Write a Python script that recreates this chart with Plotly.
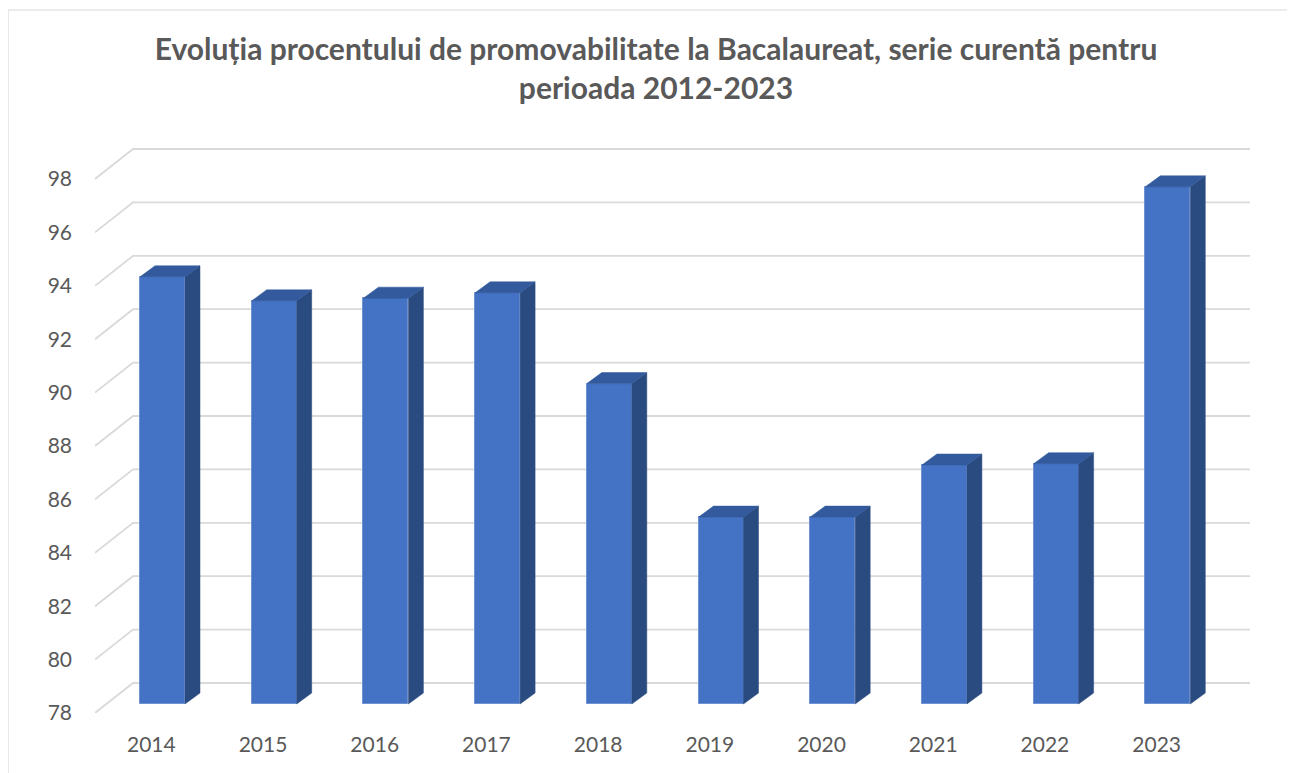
import plotly.graph_objects as go

# ---- data ----
years = ["2014", "2015", "2016", "2017", "2018", "2019", "2020", "2021", "2022", "2023"]
pass_rate = [94.0, 93.1, 93.2, 93.4, 90.0, 85.0, 85.0, 86.95, 87.0, 97.37]
y_ticks = [78, 80, 82, 84, 86, 88, 90, 92, 94, 96, 98]
title_text = "Evoluția procentului de promovabilitate la Bacalaureat, serie curentă pentru<br>perioada 2012-2023"

# ---- style / geometry (page pixels; page has an 8px body margin) ----
OFF = 8
W, H = 1295 - OFF, 773 - OFF
PLOT_L, PLOT_R, PLOT_T, PLOT_B = 95 - OFF, 1250 - OFF, 140 - OFF, 713 - OFF
BASE = 78
PX_PER_VAL = 26.7
PX_PER_CAT = 111.7
FIRST_CENTER_PX = 162.5 - OFF
BAR_BOTTOM_PX = 704 - OFF

x0 = (PLOT_L - FIRST_CENTER_PX) / PX_PER_CAT
x1 = x0 + (PLOT_R - PLOT_L) / PX_PER_CAT
y_lo = BASE - (PLOT_B - BAR_BOTTOM_PX) / PX_PER_VAL
y_hi = y_lo + (PLOT_B - PLOT_T) / PX_PER_VAL

bar_w = 45 / PX_PER_CAT
dx = 15 / PX_PER_CAT
dy = 11 / PX_PER_VAL
grid_front_dy = -9 / PX_PER_VAL
grid_back_dy = 21 / PX_PER_VAL
grid_back_x = (133 - OFF - FIRST_CENTER_PX) / PX_PER_CAT

FRONT = "#4472C4"
SIDE = "#2A4B80"
TOP = "#325A9C"
GRID = "#D9D9D9"
TEXT = "#595959"
FONT = "Lato"

xs = list(range(len(years)))

fig = go.Figure()

# side faces
sx, sy = [], []
for i, v in zip(xs, pass_rate):
    r = i + bar_w / 2
    sx += [r, r + dx, r + dx, r, r, None]
    sy += [BASE, BASE + dy, v + dy, v, BASE, None]
fig.add_trace(go.Scatter(x=sx, y=sy, mode="lines", fill="toself", fillcolor=SIDE,
                         line=dict(color=SIDE, width=0.5), hoverinfo="skip", showlegend=False))

# top faces
tx, ty = [], []
for i, v in zip(xs, pass_rate):
    l = i - bar_w / 2
    r = i + bar_w / 2
    tx += [l, l + dx, r + dx, r, l, None]
    ty += [v, v + dy, v + dy, v, v, None]
fig.add_trace(go.Scatter(x=tx, y=ty, mode="lines", fill="toself", fillcolor=TOP,
                         line=dict(color=TOP, width=0.5), hoverinfo="skip", showlegend=False))

# front faces
fig.add_trace(go.Bar(x=xs, y=[v - BASE for v in pass_rate], base=BASE, width=bar_w,
                     marker=dict(color=FRONT, line=dict(color="#6F92D3", width=1)),
                     hoverinfo="skip", showlegend=False))

# gridlines (perspective back-wall style), drawn below the traces
shapes = []
for v in y_ticks:
    path = "M {a},{b} L {c},{d} L {e},{d}".format(
        a=x0, b=v + grid_front_dy, c=grid_back_x, d=v + grid_back_dy, e=x1)
    shapes.append(dict(type="path", xref="x", yref="y", path=path,
                       line=dict(color=GRID, width=1.8), layer="below"))

# outer chart border
shapes.append(dict(type="rect", xref="paper", yref="paper",
                   x0=(0 - PLOT_L) / (PLOT_R - PLOT_L), x1=(W + 10 - PLOT_L) / (PLOT_R - PLOT_L),
                   y0=(PLOT_B - H - 10) / (PLOT_B - PLOT_T), y1=(PLOT_B - 2) / (PLOT_B - PLOT_T),
                   line=dict(color=GRID, width=1.2), layer="below"))

fig.update_layout(
    width=W, height=H,
    margin=dict(l=PLOT_L, r=W - PLOT_R, t=PLOT_T, b=H - PLOT_B),
    paper_bgcolor="white", plot_bgcolor="white",
    font=dict(family=FONT, color=TEXT, size=21),
    title=dict(text=title_text, x=(656 - OFF) / W, xanchor="center", y=1 - 52 / H, yanchor="top",
               font=dict(family=FONT, size=30, color=TEXT, weight="bold")),
    xaxis=dict(range=[x0, x1], tickvals=[i - 0.1 for i in xs], ticktext=years,
               showgrid=False, zeroline=False, showline=False, ticks="",
               ticklabelstandoff=17, tickfont=dict(size=21, color=TEXT), fixedrange=True),
    yaxis=dict(range=[y_lo, y_hi], tickvals=[v + grid_front_dy for v in y_ticks],
               ticktext=[str(v) for v in y_ticks],
               showgrid=False, zeroline=False, showline=False, ticks="",
               ticklabelstandoff=22, tickfont=dict(size=21, color=TEXT), fixedrange=True),
    bargap=0,
    shapes=shapes,
)

fig.write_html("out.html")
